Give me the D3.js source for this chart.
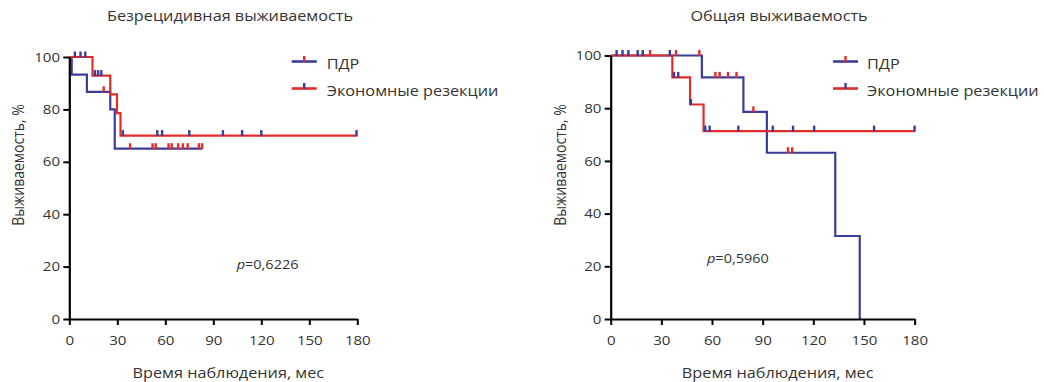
<!DOCTYPE html>
<html>
<head>
<meta charset="utf-8">
<script src="https://cdn.jsdelivr.net/npm/d3@7"></script>
<style>
  html, body { margin: 0; padding: 0; background: #fff; }
  svg { display: block; }
  text { font-family: "Open Sans", sans-serif; fill: #333; }
</style>
</head>
<body>
<div id="chart"></div>
<script>
const width = 1044;
const height = 382;

// Axis ticks
const xTicks = [0, 30, 60, 90, 120, 150, 180];
const yTicks = [0, 20, 40, 60, 80, 100];

// Series names
const groups = ['ПДР', 'Экономные резекции'];

// Безрецидивная выживаемость, ПДР
const rfsPdrTimes = [0, 1.5, 11, 25.6, 28.4];
const rfsPdrSurv = [100, 93.3, 86.7, 80, 65];
const rfsPdrEnd = 83;
const rfsPdrCensored = [21.5, 38, 52, 54, 62, 64, 68, 71, 74, 81, 83];

// Безрецидивная выживаемость, экономные резекции
const rfsErTimes = [0, 14.5, 25.6, 29.8, 32];
const rfsErSurv = [100, 92.9, 85.7, 78.6, 70];
const rfsErEnd = 180;
const rfsErCensored = [3.5, 7, 10, 16, 18, 20, 33.5, 55, 58, 75, 96, 108, 120, 179.5];

// Общая выживаемость, ПДР
const osPdrTimes = [0, 54, 78.6, 92.5, 133, 147.5];
const osPdrSurv = [100, 91.7, 78.6, 63.1, 31.5, 0];
const osPdrEnd = 147.5;
const osPdrCensored = [23.3, 38.7, 52.5, 62, 64.5, 69.5, 74.5, 84.5, 105, 107.5];

// Общая выживаемость, экономные резекции
const osErTimes = [0, 36.5, 47, 55];
const osErSurv = [100, 91.7, 81.4, 71.3];
const osErEnd = 180;
const osErCensored = [3.5, 7, 10.5, 16, 19, 35, 37.5, 40, 47.5, 56, 58.6, 75.6, 96, 108, 120.5, 156, 180];

// p values
const pValues = ['0,6226', '0,5960'];

const colors = { blue: '#3b3d9a', red: '#e42b2b' };
const stretch = 1.16;

const svg = d3.select('#chart')
    .append('svg')
    .attr('width', width)
    .attr('height', height);

function series(times, surv, end, censored, line, mark) {
    return { times, surv, end, censored, line, mark };
}

const panels = [
    {
        title: 'Безрецидивная выживаемость',
        titleX: 230,
        xRange: [69.3, 357.3],
        yRange: [319, 57],
        yLabelX: 18,
        legendX: 291.7,
        legendTextX: 326.7,
        pX: 236.7, pY: 269,
        series: [
            series(rfsPdrTimes, rfsPdrSurv, rfsPdrEnd, rfsPdrCensored, colors.blue, colors.red),
            series(rfsErTimes, rfsErSurv, rfsErEnd, rfsErCensored, colors.red, colors.blue)
        ]
    },
    {
        title: 'Общая выживаемость',
        titleX: 779,
        xRange: [610.7, 914.6],
        yRange: [319, 55.5],
        yLabelX: 560,
        legendX: 833,
        legendTextX: 867,
        pX: 707, pY: 263,
        series: [
            series(osPdrTimes, osPdrSurv, osPdrEnd, osPdrCensored, colors.blue, colors.red),
            series(osErTimes, osErSurv, osErEnd, osErCensored, colors.red, colors.blue)
        ]
    }
];

// text stretched a bit wider, like in the source picture
function label(parent, x, y, str, size, anchor, rotate) {
    const g = parent.append('g')
        .attr('transform', `translate(${x},${y}) scale(${stretch},1)` + (rotate ? ` rotate(${rotate})` : ''));
    return g.append('text')
        .attr('text-anchor', anchor || 'start')
        .style('font-size', size + 'px')
        .text(str);
}

function survAt(s, t) {
    let v = s.surv[0];
    s.times.forEach((tt, i) => { if (tt <= t) v = s.surv[i]; });
    return v;
}

panels.forEach((p, pi) => {
    const x = d3.scaleLinear().domain([0, 180]).range(p.xRange);
    const y = d3.scaleLinear().domain([0, 100]).range(p.yRange);
    const g = svg.append('g');

    // curves
    const line = d3.line()
        .x(d => x(d[0]))
        .y(d => y(d[1]))
        .curve(d3.curveStepAfter);

    p.series.forEach(s => {
        const pts = s.times.map((t, i) => [t, s.surv[i]]);
        pts.push([s.end, s.surv[s.surv.length - 1]]);
        g.append('path')
            .attr('d', line(pts))
            .attr('fill', 'none')
            .attr('stroke', s.line)
            .attr('stroke-width', 2.2);
    });

    // censoring marks
    p.series.forEach(s => {
        g.selectAll(null)
            .data(s.censored)
            .enter().append('line')
            .attr('x1', d => x(d))
            .attr('x2', d => x(d))
            .attr('y1', d => y(survAt(s, d)) - 5.5)
            .attr('y2', d => y(survAt(s, d)) + 0.5)
            .attr('stroke', s.mark)
            .attr('stroke-width', 2.4);
    });

    // axes
    const xAxis = g.append('g')
        .attr('transform', `translate(0,${y(0)})`)
        .call(d3.axisBottom(x).tickValues(xTicks).tickSize(6).tickPadding(11).tickSizeOuter(0));
    const yAxis = g.append('g')
        .attr('transform', `translate(${x(0)},0)`)
        .call(d3.axisLeft(y).tickValues(yTicks).tickSize(6).tickPadding(2).tickSizeOuter(0));

    [xAxis, yAxis].forEach(a => {
        a.select('.domain').attr('stroke', '#000').attr('stroke-width', 2.2);
        a.selectAll('.tick line').attr('stroke', '#000').attr('stroke-width', 2);
        a.selectAll('.tick text')
            .style('font-size', '13px')
            .style('font-family', '"Open Sans", sans-serif')
            .attr('fill', '#333')
            .attr('transform', `scale(${stretch},1)`);
    });

    // titles
    label(g, p.titleX, 21, p.title, 14, 'middle');
    label(g, x(90) + 15, 378, 'Время наблюдения, мес', 14, 'middle');
    label(g, p.yLabelX, 165, 'Выживаемость, %', 14, 'middle', -90)
        .attr('dy', '0.35em');

    // p value
    const pt = label(g, p.pX, p.pY, '', 12.5, 'start');
    pt.append('tspan').style('font-style', 'italic').text('p');
    pt.append('tspan').text('=' + pValues[pi]);

    // legend
    p.series.forEach((s, i) => {
        const ly = 61.5 + i * 27;
        g.append('line')
            .attr('x1', p.legendX).attr('x2', p.legendX + 25)
            .attr('y1', ly).attr('y2', ly)
            .attr('stroke', s.line).attr('stroke-width', 2.6);
        g.append('line')
            .attr('x1', p.legendX + 12.5).attr('x2', p.legendX + 12.5)
            .attr('y1', ly - 5.5).attr('y2', ly + 0.5)
            .attr('stroke', s.mark).attr('stroke-width', 2.4);
        label(g, p.legendTextX, ly + 7.5, groups[i], 14, 'start');
    });
});
</script>
</body>
</html>
